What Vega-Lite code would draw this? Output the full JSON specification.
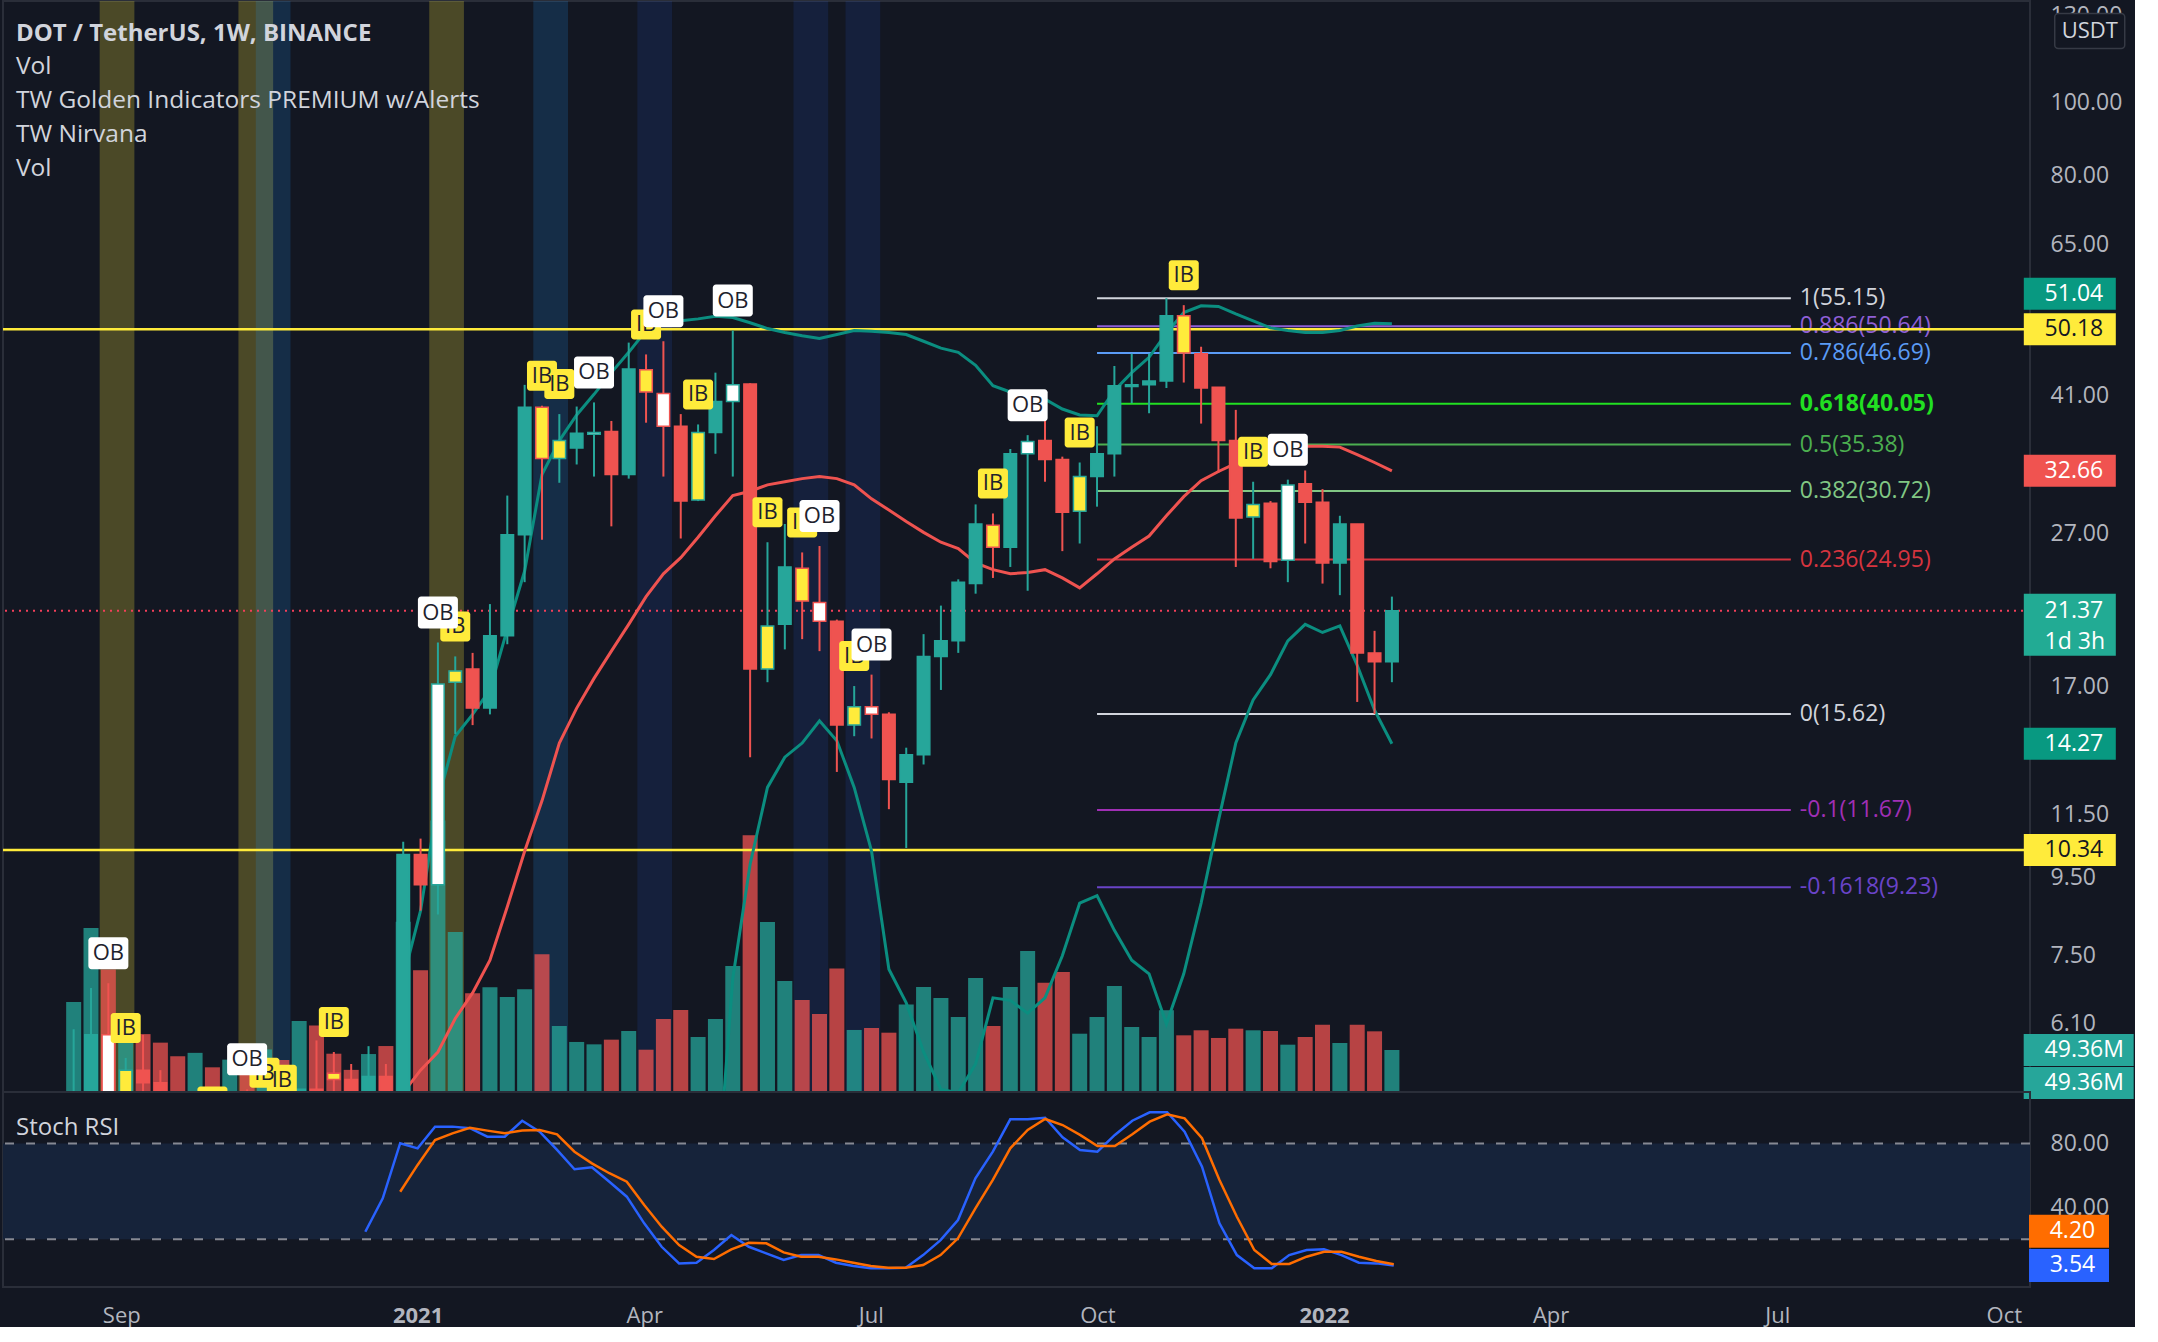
{
"$schema":"https://vega.github.io/schema/vega-lite/v6.json",
"background":"#131722",
"padding":0,
"spacing":0,
"bounds":"flush",
"config":{"view":{"stroke":"#2a2e39","strokeWidth":2},"font":"Open Sans","axis":{"labelFont":"Open Sans","labelColor":"#b2b5be","labelFontSize":23,"domain":false,"ticks":false,"grid":false},"text":{"font":"Open Sans"}},
"datasets":{
"bars":[
{"t":"2020-08-17","o":2.9,"h":6.0,"l":2.7,"c":4.9,"v":105.8,"p":""},
{"t":"2020-08-24","o":4.9,"h":6.8,"l":4.4,"c":5.9,"v":192.7,"p":""},
{"t":"2020-08-31","o":5.9,"h":6.9,"l":4.1,"c":4.6,"v":144,"p":"OB"},
{"t":"2020-09-07","o":4.6,"h":5.5,"l":4.2,"c":5.3,"v":60,"p":"IB"},
{"t":"2020-09-14","o":5.3,"h":5.9,"l":4.8,"c":5.1,"v":68,"p":""},
{"t":"2020-09-21","o":5.1,"h":5.3,"l":3.9,"c":4.4,"v":58,"p":""},
{"t":"2020-09-28","o":4.4,"h":4.6,"l":3.9,"c":4.1,"v":42,"p":""},
{"t":"2020-10-05","o":4.1,"h":4.5,"l":4.0,"c":4.3,"v":46,"p":""},
{"t":"2020-10-12","o":4.3,"h":4.4,"l":4.0,"c":4.1,"v":29,"p":"IB"},
{"t":"2020-10-19","o":4.1,"h":4.4,"l":3.9,"c":4.2,"v":38,"p":""},
{"t":"2020-10-26","o":4.2,"h":5.0,"l":3.6,"c":3.9,"v":52,"p":"OB"},
{"t":"2020-11-02","o":3.9,"h":4.8,"l":3.7,"c":4.5,"v":50,"p":"IB"},
{"t":"2020-11-09","o":4.5,"h":4.7,"l":4.0,"c":4.3,"v":37.6,"p":"IB"},
{"t":"2020-11-16","o":4.3,"h":5.0,"l":4.1,"c":5.0,"v":83.4,"p":""},
{"t":"2020-11-23","o":5.0,"h":5.8,"l":4.1,"c":4.9,"v":78,"p":""},
{"t":"2020-11-30","o":5.25,"h":5.6,"l":4.5,"c":5.15,"v":45,"p":"IB"},
{"t":"2020-12-07","o":5.15,"h":5.4,"l":4.5,"c":4.9,"v":26,"p":""},
{"t":"2020-12-14","o":4.9,"h":5.7,"l":4.8,"c":5.2,"v":44.6,"p":"","k":24.6},
{"t":"2020-12-21","o":5.2,"h":5.4,"l":4.3,"c":4.8,"v":54,"p":"","ma":4.4,"k":45.6},
{"t":"2020-12-28","o":4.8,"h":10.6,"l":4.6,"c":10.2,"v":200,"p":"","ma":4.95,"nu":7.0,"k":80.1,"d":49.7},
{"t":"2021-01-04","o":10.2,"h":10.7,"l":8.6,"c":9.3,"v":143,"p":"","ma":5.3,"nu":8.6,"k":76.9,"d":66.5},
{"t":"2021-01-11","o":9.3,"h":19.4,"l":8.5,"c":17.1,"v":319,"p":"OB","ma":5.6,"nu":12.0,"k":90.5,"d":82.1},
{"t":"2021-01-18","o":17.2,"h":18.6,"l":14.7,"c":17.8,"v":188,"p":"IB","ma":6.2,"nu":14.6,"k":90.5,"d":86.3},
{"t":"2021-01-25","o":17.9,"h":18.8,"l":15.1,"c":15.9,"v":116,"p":"","ma":6.7,"nu":15.6,"k":89.5,"d":89.8},
{"t":"2021-02-01","o":15.9,"h":21.8,"l":15.6,"c":19.8,"v":123,"p":"","ma":7.4,"nu":16.8,"k":84.2,"d":88.0},
{"t":"2021-02-08","o":19.8,"h":30.3,"l":19.3,"c":26.9,"v":111.6,"p":"","ma":8.7,"nu":20.2,"k":84.2,"d":86.3},
{"t":"2021-02-15","o":26.9,"h":42.4,"l":23.3,"c":39.6,"v":120.7,"p":"","ma":10.3,"nu":24.1,"k":94.2,"d":88.0},
{"t":"2021-02-22","o":39.6,"h":39.8,"l":26.5,"c":33.9,"v":162,"p":"IB","ma":12.0,"nu":32.3,"k":87.3,"d":88.4},
{"t":"2021-03-01","o":33.9,"h":38.8,"l":31.5,"c":35.8,"v":77.6,"p":"IB","ma":14.3,"nu":35.8,"k":75.9,"d":85.7},
{"t":"2021-03-08","o":35.0,"h":39.7,"l":33.3,"c":36.6,"v":58.8,"p":"","ma":15.9,"nu":38.7,"k":63.8,"d":74.8},
{"t":"2021-03-15","o":36.5,"h":40.2,"l":32.1,"c":36.7,"v":56,"p":"OB","ma":17.4,"nu":41.2,"k":65.0,"d":67.5},
{"t":"2021-03-22","o":36.8,"h":38.0,"l":27.6,"c":32.3,"v":61.5,"p":"","ma":18.9,"nu":44.0,"k":56.0,"d":61.3},
{"t":"2021-03-29","o":32.3,"h":48.2,"l":31.9,"c":44.5,"v":71.7,"p":"","ma":20.5,"nu":46.8,"k":46.6,"d":56.0},
{"t":"2021-04-05","o":44.4,"h":46.5,"l":37.8,"c":41.5,"v":49.7,"p":"IB","ma":22.3,"nu":50.0,"k":29.9,"d":41.4},
{"t":"2021-04-12","o":41.3,"h":48.4,"l":32.1,"c":37.4,"v":85.8,"p":"OB","ma":23.9,"nu":51.0,"k":15.2,"d":27.8},
{"t":"2021-04-19","o":37.4,"h":38.8,"l":26.6,"c":29.8,"v":96.4,"p":"","ma":25.1,"nu":51.5,"k":4.8,"d":16.3},
{"t":"2021-04-26","o":29.9,"h":37.6,"l":29.8,"c":36.7,"v":64.6,"p":"IB","ma":26.7,"nu":51.8,"k":5.2,"d":9.0},
{"t":"2021-05-03","o":36.7,"h":44.0,"l":34.4,"c":40.3,"v":85.8,"p":"","ma":28.5,"nu":52.2,"nl":3.5,"k":13.2,"d":7.5},
{"t":"2021-05-10","o":40.3,"h":50.0,"l":32.1,"c":42.4,"v":148,"p":"OB","ma":30.3,"nu":52.0,"nl":7.0,"k":22.6,"d":13.6},
{"t":"2021-05-17","o":42.5,"h":42.6,"l":13.7,"c":17.9,"v":301.6,"p":"","ma":30.7,"nu":51.2,"nl":9.9,"k":15.2,"d":17.7},
{"t":"2021-05-24","o":17.9,"h":26.3,"l":17.2,"c":20.4,"v":199.8,"p":"IB","ma":31.3,"nu":50.3,"nl":12.5,"k":11.1,"d":17.4},
{"t":"2021-05-31","o":20.5,"h":27.8,"l":19.0,"c":24.4,"v":130.4,"p":"","ma":31.6,"nu":49.7,"nl":13.7,"k":6.9,"d":11.7},
{"t":"2021-06-07","o":24.3,"h":25.5,"l":19.6,"c":22.0,"v":108,"p":"IB","ma":31.9,"nu":49.2,"nl":14.3,"k":10.0,"d":9.0},
{"t":"2021-06-14","o":21.9,"h":26.0,"l":18.9,"c":20.7,"v":91.7,"p":"OB","ma":32.1,"nu":48.8,"nl":15.3,"k":10.0,"d":9.0},
{"t":"2021-06-21","o":20.7,"h":20.8,"l":13.1,"c":15.1,"v":145,"p":"","ma":31.9,"nu":49.4,"nl":14.4,"k":5.2,"d":7.3},
{"t":"2021-06-28","o":15.1,"h":17.0,"l":14.6,"c":15.96,"v":72.9,"p":"IB","ma":31.3,"nu":50.0,"nl":12.5,"k":3.1,"d":5.2},
{"t":"2021-07-05","o":15.96,"h":17.6,"l":14.5,"c":15.6,"v":75.2,"p":"OB","ma":30.0,"nu":49.9,"nl":10.3,"k":1.7,"d":3.1},
{"t":"2021-07-12","o":15.6,"h":15.7,"l":11.7,"c":12.8,"v":69.7,"p":"","ma":29.0,"nu":49.7,"nl":7.2,"k":1.7,"d":2.1},
{"t":"2021-07-19","o":12.7,"h":14.1,"l":10.4,"c":13.8,"v":102.7,"p":"","ma":28.0,"nu":49.4,"nl":6.5,"k":2.1,"d":2.1},
{"t":"2021-07-26","o":13.8,"h":19.9,"l":13.4,"c":18.6,"v":123.4,"p":"","ma":27.1,"nu":48.4,"nl":5.6,"k":10.0,"d":3.8},
{"t":"2021-08-02","o":18.6,"h":21.7,"l":16.8,"c":19.5,"v":110.5,"p":"","ma":26.3,"nu":47.4,"nl":5.0,"k":19.4,"d":10.0},
{"t":"2021-08-09","o":19.5,"h":23.5,"l":18.8,"c":23.3,"v":88,"p":"","ma":25.8,"nu":46.8,"nl":4.95,"k":32.0,"d":20.5},
{"t":"2021-08-16","o":23.2,"h":29.5,"l":22.5,"c":27.8,"v":134,"p":"","ma":24.7,"nu":45.0,"nl":5.4,"k":58.1,"d":39.3},
{"t":"2021-08-23","o":27.7,"h":28.7,"l":23.6,"c":25.9,"v":77.6,"p":"IB","ma":24.2,"nu":42.3,"nl":6.6,"k":74.8,"d":57.1},
{"t":"2021-08-30","o":25.9,"h":34.9,"l":24.4,"c":34.4,"v":123.4,"p":"","ma":23.9,"nu":41.5,"nl":6.55,"k":95.1,"d":76.9},
{"t":"2021-09-06","o":34.4,"h":36.4,"l":22.7,"c":35.7,"v":165.7,"p":"OB","ma":24.0,"nu":41.1,"nl":6.3,"k":95.1,"d":88.4},
{"t":"2021-09-13","o":35.8,"h":38.8,"l":31.6,"c":33.8,"v":128.5,"p":"","ma":24.2,"nu":40.6,"nl":6.6,"k":96.1,"d":95.3},
{"t":"2021-09-20","o":33.8,"h":34.1,"l":25.6,"c":28.8,"v":141,"p":"","ma":23.6,"nu":39.4,"nl":7.5,"k":83.8,"d":91.5},
{"t":"2021-09-27","o":28.9,"h":33.5,"l":26.2,"c":32.1,"v":68.5,"p":"IB","ma":22.9,"nu":38.7,"nl":8.8,"k":75.9,"d":85.3},
{"t":"2021-10-04","o":32.1,"h":37.4,"l":29.3,"c":34.4,"v":88,"p":"","ma":23.9,"nu":38.6,"nl":9.0,"k":74.8,"d":78.4},
{"t":"2021-10-11","o":34.4,"h":44.9,"l":32.1,"c":42.3,"v":124.6,"p":"","ma":25.0,"nu":41.7,"nl":8.1,"k":85.3,"d":78.4},
{"t":"2021-10-18","o":42.2,"h":46.6,"l":40.1,"c":42.4,"v":76.4,"p":"","ma":25.9,"nu":44.0,"nl":7.4,"k":94.2,"d":85.7},
{"t":"2021-10-25","o":42.4,"h":46.6,"l":38.9,"c":42.9,"v":64.6,"p":"","ma":26.8,"nu":46.1,"nl":7.1,"k":99.5,"d":93.6},
{"t":"2021-11-01","o":42.9,"h":55.15,"l":42.0,"c":52.3,"v":96,"p":"","ma":28.5,"nu":49.6,"nl":6.1,"k":99.5,"d":98.2},
{"t":"2021-11-08","o":52.3,"h":54.0,"l":42.7,"c":46.7,"v":66.6,"p":"IB","ma":30.2,"nu":52.8,"nl":7.1,"k":87.3,"d":95.7},
{"t":"2021-11-15","o":46.6,"h":47.6,"l":37.7,"c":42.0,"v":72.5,"p":"","ma":31.7,"nu":53.9,"nl":8.8,"k":65.4,"d":83.2},
{"t":"2021-11-22","o":42.1,"h":42.1,"l":32.5,"c":35.8,"v":63.5,"p":"","ma":32.6,"nu":53.8,"nl":11.3,"k":29.9,"d":57.1},
{"t":"2021-11-29","o":35.8,"h":39.3,"l":24.4,"c":28.3,"v":74.4,"p":"","ma":33.4,"nu":52.6,"nl":14.3,"k":10.0,"d":34.0},
{"t":"2021-12-06","o":28.4,"h":31.6,"l":25.0,"c":29.5,"v":72.5,"p":"IB","ma":34.4,"nu":51.5,"nl":16.3,"k":1.7,"d":13.2},
{"t":"2021-12-13","o":29.6,"h":29.8,"l":24.3,"c":24.8,"v":71.7,"p":"","ma":34.9,"nu":50.4,"nl":17.6,"k":1.7,"d":4.4},
{"t":"2021-12-20","o":24.9,"h":31.8,"l":23.3,"c":31.3,"v":55.6,"p":"OB","ma":35.1,"nu":50.0,"nl":19.5,"k":10.0,"d":4.4},
{"t":"2021-12-27","o":31.4,"h":32.7,"l":26.2,"c":29.7,"v":64.6,"p":"","ma":35.2,"nu":49.7,"nl":20.5,"k":13.2,"d":9.0},
{"t":"2022-01-03","o":29.7,"h":30.9,"l":23.2,"c":24.7,"v":79,"p":"","ma":35.2,"nu":49.7,"nl":20.0,"k":13.6,"d":12.1},
{"t":"2022-01-10","o":24.7,"h":28.5,"l":22.4,"c":27.8,"v":57.6,"p":"","ma":35.1,"nu":50.0,"nl":20.4,"k":10.0,"d":12.1},
{"t":"2022-01-17","o":27.8,"h":27.8,"l":16.2,"c":18.8,"v":79,"p":"","ma":34.3,"nu":50.7,"nl":18.1,"k":5.2,"d":9.0},
{"t":"2022-01-24","o":18.8,"h":20.1,"l":15.62,"c":18.3,"v":71.3,"p":"","ma":33.5,"nu":51.1,"nl":15.8,"k":4.8,"d":6.3},
{"t":"2022-01-31","o":18.3,"h":22.3,"l":17.2,"c":21.37,"v":49.36,"p":"","ma":32.66,"nu":51.04,"nl":14.27,"k":3.54,"d":4.2}
],
"fib":[
{"lv":"1","p":55.15,"lab":"1(55.15)"},
{"lv":"0.886","p":50.64,"lab":"0.886(50.64)"},
{"lv":"0.786","p":46.69,"lab":"0.786(46.69)"},
{"lv":"0.618","p":40.05,"lab":"0.618(40.05)"},
{"lv":"0.5","p":35.38,"lab":"0.5(35.38)"},
{"lv":"0.382","p":30.72,"lab":"0.382(30.72)"},
{"lv":"0.236","p":24.95,"lab":"0.236(24.95)"},
{"lv":"0","p":15.62,"lab":"0(15.62)"},
{"lv":"-0.1","p":11.67,"lab":"-0.1(11.67)"},
{"lv":"-0.1618","p":9.23,"lab":"-0.1618(9.23)"}
],
"bands":[
{"s":"2020-08-27T12:00:00Z","e":"2020-09-10T12:00:00Z","k":"y"},
{"s":"2020-10-22T12:00:00Z","e":"2020-11-05T12:00:00Z","k":"y"},
{"s":"2020-10-29T12:00:00Z","e":"2020-11-12T12:00:00Z","k":"s"},
{"s":"2021-01-07T12:00:00Z","e":"2021-01-21T12:00:00Z","k":"y"},
{"s":"2021-02-18T12:00:00Z","e":"2021-03-04T12:00:00Z","k":"s"},
{"s":"2021-04-01T12:00:00Z","e":"2021-04-15T12:00:00Z","k":"b"},
{"s":"2021-06-03T12:00:00Z","e":"2021-06-17T12:00:00Z","k":"b"},
{"s":"2021-06-24T12:00:00Z","e":"2021-07-08T12:00:00Z","k":"b"}
],
"tags":[
{"k":"nu","y":51.04,"txt":"51.04"},
{"k":"res","y":50.18,"txt":"50.18"},
{"k":"ma","y":32.66,"txt":"32.66"},
{"k":"last","y":21.37,"txt":"21.37"},
{"k":"nl","y":14.27,"txt":"14.27"},
{"k":"res","y":10.34,"txt":"10.34"}
]
},
"vconcat":[
{
"width":2027,"height":1091,
"title":{"text":"DOT / TetherUS, 1W, BINANCE","subtitle":["Vol","TW Golden Indicators PREMIUM w/Alerts","TW Nirvana","Vol"],"anchor":"start","frame":"group","orient":"top","offset":-179,"dx":13,"font":"Open Sans","fontSize":24,"fontWeight":"bold","color":"#d1d4dc","subtitleFont":"Open Sans","subtitleFontSize":24.5,"subtitleColor":"#d1d4dc","subtitleLineHeight":34,"subtitlePadding":9},
"resolve":{"scale":{"y":"independent","color":"independent","opacity":"independent","fill":"independent"}},
"layer":[
{
"data":{"name":"bands"},
"mark":{"type":"rect"},
"encoding":{
"x":{"field":"s","type":"temporal","scale":{"type":"utc","domain":[{"year":2020,"month":7,"date":21,"hours":12,"utc":true},{"year":2022,"month":10,"date":13,"hours":12,"utc":true}]},"axis":null},
"x2":{"field":"e"},
"color":{"field":"k","type":"nominal","scale":{"domain":["y","s","b"],"range":["#ffeb3b","#2196f3","#2962ff"]},"legend":null},
"opacity":{"field":"k","type":"nominal","scale":{"domain":["y","s","b"],"range":[0.24,0.12,0.3]},"legend":null}
}
},
{
"layer":[
{"data":{"name":"bars"},"mark":{"type":"bar","width":15,"opacity":0.75,"clip":true},
"encoding":{"x":{"field":"t","type":"temporal","scale":{"type":"utc","domain":[{"year":2020,"month":7,"date":21,"hours":12,"utc":true},{"year":2022,"month":10,"date":13,"hours":12,"utc":true}]},"axis":null},
"y":{"field":"v","type":"quantitative","scale":{"domain":[0,1282],"nice":false},"axis":null,"title":null},
"fill":{"condition":{"test":"datum.c >= datum.o","value":"#26a69a"},"value":"#ef5350"}}},
{"data":{"values":[{"v":49.36}]},"mark":{"type":"point","shape":"M-3.4375,-1H3.4375V1H-3.4375Z","size":1024,"filled":true,"opacity":1,"color":"#26a69a","clip":false},
"encoding":{"x":{"datum":{"year":2022,"month":11,"date":4,"hours":4,"utc":true},"type":"temporal","axis":null},"y":{"field":"v","type":"quantitative","axis":null,"title":null}}},
{"data":{"values":[{"v":49.36}]},"mark":{"type":"point","shape":"M-3.4375,-1H3.4375V1H-3.4375Z","size":1024,"filled":true,"opacity":1,"color":"#26a69a","clip":false,"yOffset":33},
"encoding":{"x":{"datum":{"year":2022,"month":11,"date":4,"hours":4,"utc":true},"type":"temporal","axis":null},"y":{"field":"v","type":"quantitative","axis":null,"title":null}}},
{"data":{"values":[{"v":49.36,"txt":"49.36M"}]},"mark":{"type":"text","align":"left","baseline":"middle","fontSize":23,"color":"#ffffff","clip":false},
"encoding":{"x":{"datum":{"year":2022,"month":10,"date":21,"hours":10,"utc":true},"type":"temporal","axis":null},"y":{"field":"v","type":"quantitative","axis":null,"title":null},"text":{"field":"txt"}}},
{"data":{"values":[{"v":49.36,"txt":"49.36M"}]},"mark":{"type":"text","align":"left","baseline":"middle","fontSize":23,"color":"#ffffff","clip":false,"yOffset":33},
"encoding":{"x":{"datum":{"year":2022,"month":10,"date":21,"hours":10,"utc":true},"type":"temporal","axis":null},"y":{"field":"v","type":"quantitative","axis":null,"title":null},"text":{"field":"txt"}}}
]
},
{
"layer":[
{"data":{"name":"fib"},"mark":{"type":"rule","strokeWidth":2,"clip":true},
"encoding":{"x":{"datum":{"year":2021,"month":10,"date":4,"utc":true},"type":"temporal","axis":null},"x2":{"datum":{"year":2022,"month":7,"date":11,"utc":true}},
"y":{"field":"p","type":"quantitative","scale":{"type":"log","domain":[4.96,135.9],"nice":false},"title":null},
"color":{"field":"lv","type":"nominal","scale":{"domain":["1","0.886","0.786","0.618","0.5","0.382","0.236","0","-0.1","-0.1618"],"range":["#d1d4dc","#8e5fd6","#5b9cf6","#22e022","#4caf50","#81c784","#d6343f","#d1d4dc","#a02fb5","#6a44c8"]},"legend":null}}},
{"data":{"name":"fib"},"transform":[{"filter":"datum.lv != '0.618'"}],"mark":{"type":"text","align":"left","baseline":"middle","dx":9,"fontSize":23,"clip":false},
"encoding":{"x":{"datum":{"year":2022,"month":7,"date":11,"utc":true},"type":"temporal","axis":null},
"y":{"field":"p","type":"quantitative","title":null},"text":{"field":"lab"},
"color":{"field":"lv","type":"nominal","legend":null}}},
{"data":{"name":"fib"},"transform":[{"filter":"datum.lv == '0.618'"}],"mark":{"type":"text","align":"left","baseline":"middle","dx":9,"fontSize":23,"fontWeight":"bold","clip":false},
"encoding":{"x":{"datum":{"year":2022,"month":7,"date":11,"utc":true},"type":"temporal","axis":null},
"y":{"field":"p","type":"quantitative","title":null},"text":{"field":"lab"},
"color":{"field":"lv","type":"nominal","legend":null}}},
{"data":{"values":[{"p":50.18},{"p":10.34}]},"mark":{"type":"rule","color":"#ffeb3b","strokeWidth":2.5},
"encoding":{"y":{"field":"p","type":"quantitative","title":null,"axis":{"orient":"right","values":[130,100,80,65,41,27,17,11.5,9.5,7.5,6.1],"format":".2f","labelPadding":20,"labelAlign":"left","labelBaseline":"middle","labelOverlap":false,"labelFlush":false,"labelBound":false,"title":null,"zindex":0}}}},
{"data":{"values":[{"p":21.37}]},"mark":{"type":"rule","color":"#f23f5a","strokeWidth":2,"strokeDash":[2,5]},
"encoding":{"y":{"field":"p","type":"quantitative","title":null}}},
{"data":{"name":"bars"},"mark":{"type":"line","color":"#ef5350","strokeWidth":3,"clip":true},
"encoding":{"x":{"field":"t","type":"temporal","axis":null},"y":{"field":"ma","type":"quantitative","title":null}}},
{"data":{"name":"bars"},"mark":{"type":"line","color":"#0b8e80","strokeWidth":3,"clip":true},
"encoding":{"x":{"field":"t","type":"temporal","axis":null},"y":{"field":"nu","type":"quantitative","title":null}}},
{"data":{"name":"bars"},"mark":{"type":"line","color":"#0b8e80","strokeWidth":3,"clip":true},
"encoding":{"x":{"field":"t","type":"temporal","axis":null},"y":{"field":"nl","type":"quantitative","title":null}}},
{"data":{"name":"bars"},"mark":{"type":"rule","strokeWidth":2,"clip":true},
"encoding":{"x":{"field":"t","type":"temporal","axis":null},"y":{"field":"l","type":"quantitative","title":null},"y2":{"field":"h"},
"color":{"condition":{"test":"datum.c >= datum.o","value":"#26a69a"},"value":"#ef5350"}}},
{"data":{"name":"bars"},"mark":{"type":"bar","width":12.5,"strokeWidth":1.5,"clip":true},
"encoding":{"x":{"field":"t","type":"temporal","axis":null},"y":{"field":"o","type":"quantitative","title":null},"y2":{"field":"c"},
"fill":{"condition":[{"test":"datum.p == 'IB'","value":"#ffeb3b"},{"test":"datum.p == 'OB'","value":"#ffffff"},{"test":"datum.c >= datum.o","value":"#26a69a"}],"value":"#ef5350"},
"stroke":{"condition":{"test":"datum.c >= datum.o","value":"#26a69a"},"value":"#ef5350"}}},
{"data":{"name":"bars"},"transform":[{"filter":"datum.p == 'IB'"}],"mark":{"type":"point","shape":"M-0.8,-1H0.8A0.2,0.2 0 0 1 1,-0.8V0.8A0.2,0.2 0 0 1 0.8,1H-0.8A0.2,0.2 0 0 1 -1,0.8V-0.8A0.2,0.2 0 0 1 -0.8,-1Z","size":900,"filled":true,"opacity":1,"color":"#ffeb3b","yOffset":-30,"clip":true},
"encoding":{"x":{"field":"t","type":"temporal","axis":null},"y":{"field":"h","type":"quantitative","title":null}}},
{"data":{"name":"bars"},"transform":[{"filter":"datum.p == 'IB'"}],"mark":{"type":"text","fontSize":22,"color":"#1e222d","align":"center","baseline":"middle","yOffset":-30,"clip":true},
"encoding":{"x":{"field":"t","type":"temporal","axis":null},"y":{"field":"h","type":"quantitative","title":null},"text":{"field":"p"}}},
{"data":{"name":"bars"},"transform":[{"filter":"datum.p == 'OB'"}],"mark":{"type":"point","shape":"M-1.05,-1H1.05A0.2,0.2 0 0 1 1.25,-0.8V0.8A0.2,0.2 0 0 1 1.05,1H-1.05A0.2,0.2 0 0 1 -1.25,0.8V-0.8A0.2,0.2 0 0 1 -1.05,-1Z","size":1024,"filled":true,"opacity":1,"color":"#ffffff","yOffset":-30,"clip":true},
"encoding":{"x":{"field":"t","type":"temporal","axis":null},"y":{"field":"h","type":"quantitative","title":null}}},
{"data":{"name":"bars"},"transform":[{"filter":"datum.p == 'OB'"}],"mark":{"type":"text","fontSize":22,"color":"#1e222d","align":"center","baseline":"middle","yOffset":-30,"clip":true},
"encoding":{"x":{"field":"t","type":"temporal","axis":null},"y":{"field":"h","type":"quantitative","title":null},"text":{"field":"p"}}},
{"data":{"name":"tags"},"transform":[{"filter":"datum.k == 'res' || datum.k == 'ma' || datum.k == 'nl'"}],"mark":{"type":"point","shape":"M-2.875,-1H2.875V1H-2.875Z","size":1024,"filled":true,"opacity":1,"clip":false},
"encoding":{"x":{"datum":{"year":2022,"month":10,"date":31,"hours":14,"utc":true},"type":"temporal","axis":null},"y":{"field":"y","type":"quantitative","title":null},
"fill":{"field":"k","type":"nominal","scale":{"domain":["nu","res","ma","last","nl"],"range":["#089981","#ffeb3b","#f05350","#22ab94","#089981"]},"legend":null}}},
{"data":{"name":"tags"},"transform":[{"filter":"datum.k == 'nu'"}],"mark":{"type":"point","shape":"M-2.875,-1H2.875V1H-2.875Z","size":1024,"filled":true,"opacity":1,"clip":false,"yOffset":-30},
"encoding":{"x":{"datum":{"year":2022,"month":10,"date":31,"hours":14,"utc":true},"type":"temporal","axis":null},"y":{"field":"y","type":"quantitative","title":null},
"fill":{"field":"k","type":"nominal","legend":null}}},
{"data":{"name":"tags"},"transform":[{"filter":"datum.k == 'last'"}],"mark":{"type":"point","shape":"M-1.4839,-1H1.4839V1H-1.4839Z","size":3844,"filled":true,"opacity":1,"clip":false,"yOffset":14},
"encoding":{"x":{"datum":{"year":2022,"month":10,"date":31,"hours":14,"utc":true},"type":"temporal","axis":null},"y":{"field":"y","type":"quantitative","title":null},
"fill":{"field":"k","type":"nominal","legend":null}}},
{"data":{"name":"tags"},"transform":[{"filter":"datum.k != 'nu'"}],"mark":{"type":"text","align":"left","baseline":"middle","fontSize":23,"clip":false},
"encoding":{"x":{"datum":{"year":2022,"month":10,"date":21,"hours":10,"utc":true},"type":"temporal","axis":null},"y":{"field":"y","type":"quantitative","title":null},"text":{"field":"txt"},
"color":{"condition":{"test":"datum.k == 'res'","value":"#131722"},"value":"#ffffff"}}},
{"data":{"name":"tags"},"transform":[{"filter":"datum.k == 'nu'"}],"mark":{"type":"text","align":"left","baseline":"middle","fontSize":23,"clip":false,"yOffset":-30,"color":"#ffffff"},
"encoding":{"x":{"datum":{"year":2022,"month":10,"date":21,"hours":10,"utc":true},"type":"temporal","axis":null},"y":{"field":"y","type":"quantitative","title":null},"text":{"field":"txt"}}},
{"data":{"values":[{"y":21.37,"txt":"1d 3h"}]},"mark":{"type":"text","align":"left","baseline":"middle","fontSize":23,"clip":false,"yOffset":31,"color":"#ffffff"},
"encoding":{"x":{"datum":{"year":2022,"month":10,"date":21,"hours":10,"utc":true},"type":"temporal","axis":null},"y":{"field":"y","type":"quantitative","title":null},"text":{"field":"txt"}}},
{"data":{"values":[{"y":124.1,"txt":"USDT"}]},"mark":{"type":"point","shape":"M-1.8,-1H1.8A0.2,0.2 0 0 1 2,-0.8V0.8A0.2,0.2 0 0 1 1.8,1H-1.8A0.2,0.2 0 0 1 -2,0.8V-0.8A0.2,0.2 0 0 1 -1.8,-1Z","size":1225,"filled":true,"opacity":1,"fill":"#131722","stroke":"#363a45","strokeWidth":1.5,"clip":false},
"encoding":{"x":{"datum":{"year":2022,"month":11,"date":8,"hours":15,"utc":true},"type":"temporal","axis":null},"y":{"field":"y","type":"quantitative","title":null}}},
{"data":{"values":[{"y":124.1,"txt":"USDT"}]},"mark":{"type":"text","align":"center","baseline":"middle","fontSize":22,"color":"#d1d4dc","clip":false},
"encoding":{"x":{"datum":{"year":2022,"month":11,"date":8,"hours":15,"utc":true},"type":"temporal","axis":null},"y":{"field":"y","type":"quantitative","title":null},"text":{"field":"txt"}}}
]
}
]
},
{
"width":2027,"height":195,
"title":{"text":"Stoch RSI","anchor":"start","frame":"group","orient":"top","offset":-48,"dx":13,"font":"Open Sans","fontSize":24,"fontWeight":"normal","color":"#d1d4dc"},
"layer":[
{"data":{"values":[{"a":80,"b":20}]},"mark":{"type":"rect","color":"#16233a"},
"encoding":{"y":{"field":"a","type":"quantitative","scale":{"domain":[-10,112.2],"nice":false,"zero":false},"title":null},"y2":{"field":"b"}}},
{"data":{"values":[{"a":80},{"a":20}]},"mark":{"type":"rule","color":"#868993","strokeWidth":2,"strokeDash":[9,12]},
"encoding":{"y":{"field":"a","type":"quantitative","title":null}}},
{"data":{"name":"bars"},"mark":{"type":"line","color":"#2962ff","strokeWidth":2.5,"clip":true},
"encoding":{"x":{"field":"t","type":"temporal","title":null,"scale":{"type":"utc","domain":[{"year":2020,"month":7,"date":21,"hours":12,"utc":true},{"year":2022,"month":10,"date":13,"hours":12,"utc":true}]},
"axis":{"values":[{"year":2020,"month":9,"date":7,"utc":true},{"year":2021,"month":1,"date":4,"utc":true},{"year":2021,"month":4,"date":5,"utc":true},{"year":2021,"month":7,"date":5,"utc":true},{"year":2021,"month":10,"date":4,"utc":true},{"year":2022,"month":1,"date":3,"utc":true},{"year":2022,"month":4,"date":4,"utc":true},{"year":2022,"month":7,"date":4,"utc":true},{"year":2022,"month":10,"date":3,"utc":true}],
"labelExpr":"utcmonth(datum.value) == 0 ? utcFormat(datum.value, '%Y') : utcFormat(datum.value, '%b')",
"labelFontWeight":{"condition":{"test":"utcmonth(datum.value) == 0","value":"bold"},"value":"normal"},
"labelFontSize":22,"labelPadding":18,"labelFlush":false,"labelBound":false,"labelOverlap":false,"title":null}},
"y":{"field":"k","type":"quantitative","title":null,"axis":{"orient":"right","values":[80,40],"format":".2f","labelPadding":20,"labelAlign":"left","labelBaseline":"middle","labelFlush":false,"labelBound":false,"title":null,"zindex":0}}}},
{"data":{"name":"bars"},"mark":{"type":"line","color":"#ff6d00","strokeWidth":2.5,"clip":true},
"encoding":{"x":{"field":"t","type":"temporal","title":null},"y":{"field":"d","type":"quantitative","title":null}}},
{"data":{"values":[{"y":4.2}]},"mark":{"type":"point","shape":"M-2.4242,-1H2.4242V1H-2.4242Z","size":1089,"filled":true,"opacity":1,"color":"#ff6d00","clip":false,"yOffset":-33},
"encoding":{"x":{"datum":{"year":2022,"month":10,"date":29,"hours":4,"utc":true},"type":"temporal","title":null},"y":{"field":"y","type":"quantitative","title":null}}},
{"data":{"values":[{"y":3.54}]},"mark":{"type":"point","shape":"M-2.4242,-1H2.4242V1H-2.4242Z","size":1089,"filled":true,"opacity":1,"color":"#2962ff","clip":false},
"encoding":{"x":{"datum":{"year":2022,"month":10,"date":29,"hours":4,"utc":true},"type":"temporal","title":null},"y":{"field":"y","type":"quantitative","title":null}}},
{"data":{"values":[{"y":4.2,"txt":"4.20"}]},"mark":{"type":"text","align":"left","baseline":"middle","fontSize":23,"color":"#ffffff","clip":false,"yOffset":-33},
"encoding":{"x":{"datum":{"year":2022,"month":10,"date":21,"hours":10,"utc":true},"type":"temporal","title":null},"y":{"field":"y","type":"quantitative","title":null},"text":{"field":"txt"}}},
{"data":{"values":[{"y":3.54,"txt":"3.54"}]},"mark":{"type":"text","align":"left","baseline":"middle","fontSize":23,"color":"#ffffff","clip":false},
"encoding":{"x":{"datum":{"year":2022,"month":10,"date":21,"hours":10,"utc":true},"type":"temporal","title":null},"y":{"field":"y","type":"quantitative","title":null},"text":{"field":"txt"}}}
]
}
]
}
